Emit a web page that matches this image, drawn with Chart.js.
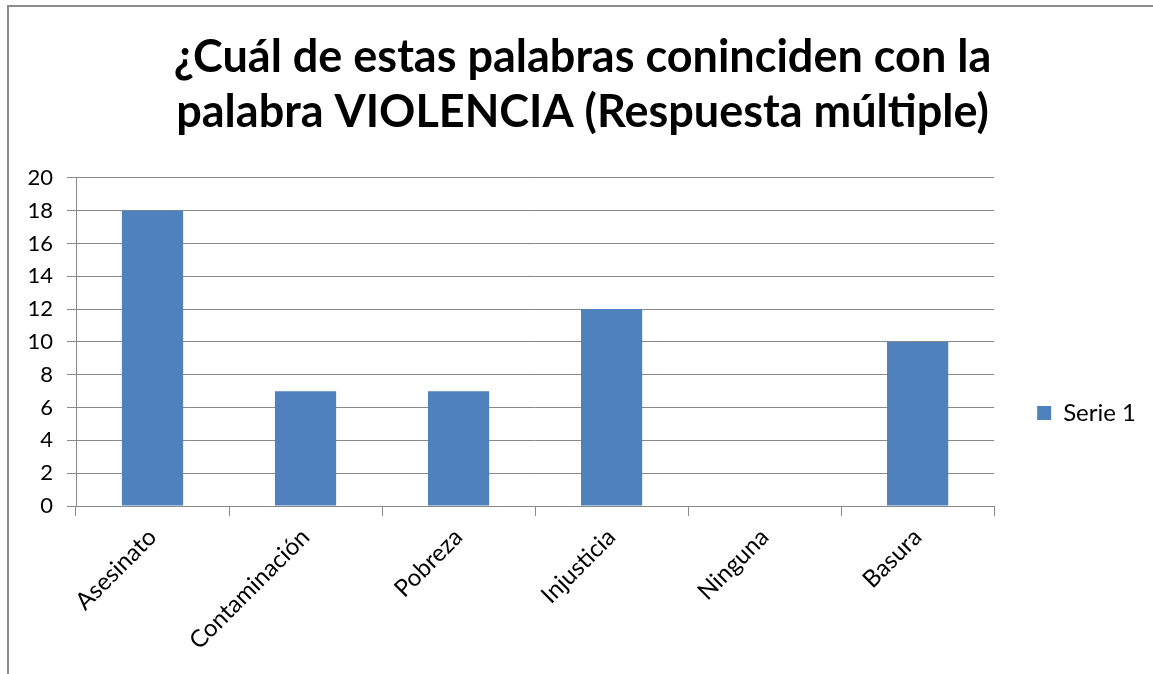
<!DOCTYPE html>
<html>
<head>
<meta charset="utf-8">
<script src="https://cdn.jsdelivr.net/npm/chart.js"></script>
<style>
html,body{margin:0;padding:0;background:#fff;overflow:hidden;}
#wrap{position:relative;width:1153px;height:674px;}
#frame{position:absolute;left:7px;top:5px;width:1200px;height:800px;border-left:2px solid #8c8c8c;border-top:2px solid #8c8c8c;pointer-events:none;}
canvas{position:absolute;left:0;top:0;}
</style>
</head>
<body>
<div id="wrap">
<canvas id="c" width="1153" height="674"></canvas>
<div id="frame"></div>
</div>
<script>
const titleLines = ['¿Cuál de estas palabras coninciden con la', 'palabra VIOLENCIA (Respuesta múltiple)'];
const categories = ['Asesinato', 'Contaminación', 'Pobreza', 'Injusticia', 'Ninguna', 'Basura'];
const serieName = 'Serie 1';
const serie1 = [18, 7, 7, 12, 0, 10];
const yMin = 0, yMax = 20, yStep = 2;

const FONT = 'Lato, "Open Sans", sans-serif';
const gridColor = '#898989';

new Chart(document.getElementById('c'), {
  type: 'bar',
  data: {
    labels: categories,
    datasets: [{
      label: serieName,
      data: serie1,
      backgroundColor: '#4F81BD',
      borderWidth: 0,
      barPercentage: 0.4,
      categoryPercentage: 1.0
    }]
  },
  options: {
    responsive: false,
    animation: false,
    devicePixelRatio: 1,
    layout: { padding: { left: 19, top: 0, right: 7, bottom: 0 } },
    plugins: {
      title: {
        display: true,
        text: titleLines,
        color: '#000',
        font: { family: FONT, size: 45, weight: 'bold', lineHeight: 1.22 },
        padding: { top: 30, bottom: 38 }
      },
      legend: {
        display: true,
        position: 'right',
        title: { display: true, text: '', font: { size: 1, lineHeight: 1 }, padding: { top: 151, bottom: 0 } },
        labels: {
          color: '#000',
          font: { family: FONT, size: 24 },
          boxWidth: 14,
          boxHeight: 14,
          padding: 10
        }
      },
      tooltip: { enabled: false }
    },
    scales: {
      x: {
        offset: true,
        grid: { display: true, drawOnChartArea: false, drawTicks: true, tickLength: 10, offset: true, color: gridColor, lineWidth: 1 },
        border: { display: true, color: gridColor, width: 1 },
        ticks: { color: '#000', font: { family: FONT, size: 24 }, minRotation: 45, maxRotation: 45, padding: 7 },
        afterFit: s => { s.height = 168; }
      },
      y: {
        min: yMin, max: yMax,
        grid: { color: gridColor, lineWidth: 1, tickLength: 9, drawTicks: true },
        border: { display: true, color: gridColor, width: 1 },
        ticks: { stepSize: yStep, color: '#000', font: { family: FONT, size: 22 }, padding: 14 },
        afterFit: s => { s.width = 57; }
      },
      gap: {
        position: 'right',
        display: true,
        grid: { display: false, drawTicks: false },
        border: { display: false },
        ticks: { display: false },
        afterFit: s => { s.width = 33; }
      }
    }
  }
});
</script>
</body>
</html>
